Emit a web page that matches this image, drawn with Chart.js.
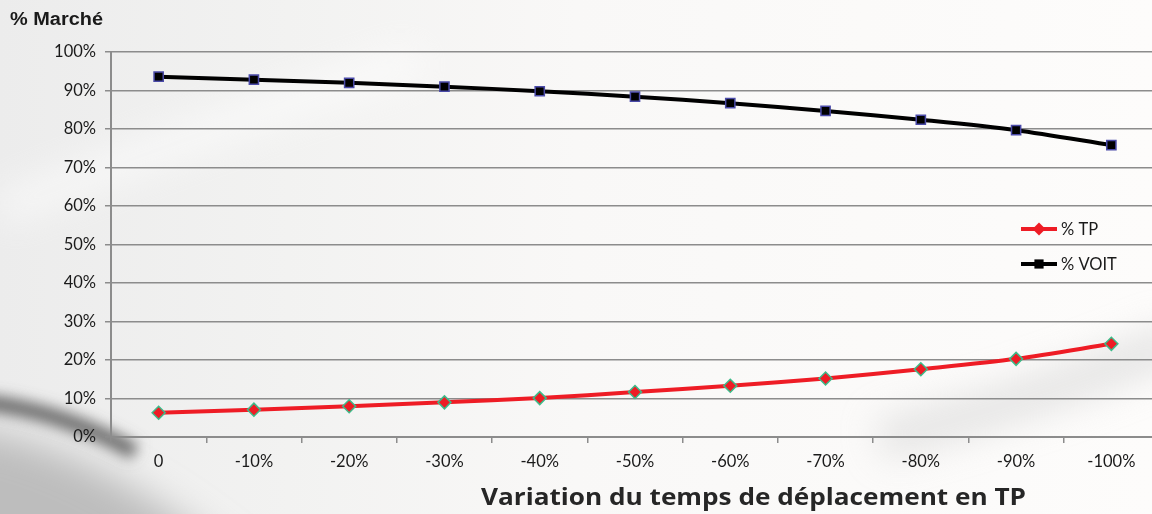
<!DOCTYPE html>
<html>
<head>
<meta charset="utf-8">
<script src="https://cdn.jsdelivr.net/npm/chart.js@4.4.1/dist/chart.umd.min.js"></script>
<style>
  html, body { margin: 0; padding: 0; overflow: hidden; }
  body {
    width: 1152px; height: 514px;
    background: linear-gradient(90deg, #ececec 0%, #f2f2f1 25%, #f9f8f7 50%, #fdfcfb 100%);
  }
  #bg { position: absolute; left: 0; top: 0; }
  #myChart { position: absolute; left: 0; top: 0; }
</style>
</head>
<body>
<svg id="bg" width="1152" height="514">
  <defs>
    <filter id="b8" filterUnits="userSpaceOnUse" x="-200" y="-200" width="1600" height="900"><feGaussianBlur stdDeviation="7"/></filter>
    <filter id="b20" filterUnits="userSpaceOnUse" x="-200" y="-200" width="1600" height="900"><feGaussianBlur stdDeviation="18"/></filter>
  </defs>
  <path d="M -80 425 Q 80 425 260 580 L -80 600 Z" fill="#bdbdbd" filter="url(#b20)"/>
  <path d="M -20 402 Q 60 410 135 452" stroke="#6a6a6a" stroke-width="16" fill="none" filter="url(#b8)"/>
  <path d="M 0 210 Q 200 130 420 60" stroke="#ffffff" stroke-width="30" fill="none" opacity="0.6" filter="url(#b20)"/>
  <path d="M 880 440 Q 1040 400 1180 340" stroke="#d6d6d6" stroke-width="40" fill="none" opacity="0.6" filter="url(#b20)"/>
</svg>
<canvas id="myChart" width="1167" height="514"></canvas>
<script>
'use strict'

var categories = ['0', '-10%', '-20%', '-30%', '-40%', '-50%', '-60%', '-70%', '-80%', '-90%', '-100%'];
var tpValues = [6.3, 7.1, 8.0, 9.0, 10.1, 11.7, 13.3, 15.2, 17.6, 20.3, 24.2];
var voitValues = [93.6, 92.8, 92.0, 91.0, 89.8, 88.4, 86.7, 84.7, 82.4, 79.7, 75.8];
var yTicks = [0, 10, 20, 30, 40, 50, 60, 70, 80, 90, 100];
var yTitle = '% Marché';
var xTitle = 'Variation du temps de déplacement en TP';

var tickFont = { family: 'Lato', size: 16.5 };
var gridColor = '#8c8c8c';

var data = {
    labels: categories,
    datasets: [
    {
        label: '% TP',
        data: tpValues,
        borderColor: '#ee1c25',
        borderWidth: 4,
        backgroundColor: '#ee1c25',
        pointStyle: 'rectRot',
        pointRadius: 6.5,
        pointBackgroundColor: '#ee1c25',
        pointBorderColor: '#3dbb8a',
        pointBorderWidth: 1.5,
        tension: 0.3
    },
    {
        label: '% VOIT',
        data: voitValues,
        borderColor: '#000000',
        borderWidth: 4,
        backgroundColor: '#000000',
        pointStyle: 'rect',
        pointRadius: 6.5,
        pointBackgroundColor: '#000000',
        pointBorderColor: '#4a4aa8',
        pointBorderWidth: 1.5,
        tension: 0.3
    }]
};

// draws text squeezed/stretched to a given width
function fitText(ctx, text, x, y, width) {
    var w = ctx.measureText(text).width;
    ctx.save();
    ctx.translate(x, y);
    ctx.scale(width / w, 1);
    ctx.fillText(text, 0, 0);
    ctx.restore();
}

// legend with line + marker, and the two titles
var extras = {
    id: 'extras',
    afterDraw: function (chart) {
        var ctx = chart.ctx;
        ctx.save();
        var rows = [229, 264];
        chart.data.datasets.forEach(function (ds, i) {
            var y = rows[i];
            ctx.strokeStyle = ds.borderColor;
            ctx.lineWidth = 4;
            ctx.beginPath();
            ctx.moveTo(1021, y);
            ctx.lineTo(1057, y);
            ctx.stroke();
            ctx.fillStyle = ds.pointBackgroundColor;
            ctx.strokeStyle = ds.pointBorderColor;
            ctx.lineWidth = ds.pointBorderWidth;
            Chart.helpers.drawPoint(ctx, { pointStyle: ds.pointStyle, radius: ds.pointRadius, rotation: 0 }, 1039, y);
            ctx.fillStyle = '#1a1a1a';
            ctx.font = '16.5px Lato';
            ctx.textAlign = 'left';
            ctx.textBaseline = 'middle';
            ctx.fillText(ds.label, 1061, y + 1);
        });
        ctx.fillStyle = '#1a1a1a';
        ctx.font = 'bold 18px "Liberation Sans"';
        ctx.textAlign = 'left';
        ctx.textBaseline = 'middle';
        fitText(ctx, yTitle, 10, 20, 93);
        ctx.fillStyle = '#262626';
        ctx.font = 'bold 23px "Open Sans"';
        ctx.textAlign = 'left';
        fitText(ctx, xTitle, 481, 498, 545);
        ctx.restore();
    }
};

var ctx = document.getElementById('myChart').getContext('2d');

var myChart = new Chart(ctx, {
    type: 'line',
    data: data,
    plugins: [extras],
    options: {
        responsive: false,
        animation: false,
        layout: { padding: { top: 52, left: 0, right: 0, bottom: 0 } },
        plugins: {
            legend: { display: false },
            tooltip: { enabled: false }
        },
        scales: {
            x: {
                offset: true,
                grid: {
                    offset: true,
                    drawOnChartArea: false,
                    color: gridColor,
                    lineWidth: 1.5,
                    tickLength: 6
                },
                border: { color: gridColor, width: 2 },
                ticks: { color: '#1a1a1a', font: tickFont, padding: 9, maxRotation: 0 },
                afterFit: function (scale) { scale.height = 77; }
            },
            y: {
                min: 0,
                max: 100,
                afterBuildTicks: function (scale) {
                    scale.ticks = yTicks.map(function (v) { return { value: v }; });
                },
                grid: {
                    color: gridColor,
                    lineWidth: 1.5,
                    tickLength: 6
                },
                border: { color: gridColor, width: 2 },
                ticks: {
                    color: '#1a1a1a',
                    font: tickFont,
                    padding: 9,
                    callback: function (v) { return v + '%'; }
                },
                afterFit: function (scale) { scale.width = 111; }
            }
        }
    }
});
</script>
</body>
</html>
